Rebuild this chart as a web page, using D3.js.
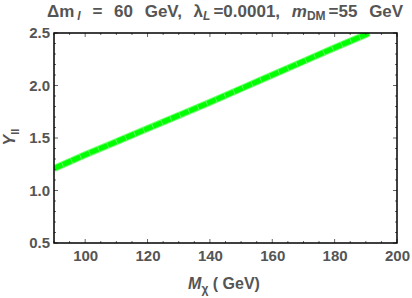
<!DOCTYPE html>
<html>
<head>
<meta charset="utf-8">
<script src="https://cdn.jsdelivr.net/npm/d3@7"></script>
<style>
  body { margin: 0; background: #fff; }
  text { font-family: "Liberation Sans", Arial, sans-serif; fill: #555; }
</style>
</head>
<body>
<svg id="chart" width="412" height="298"></svg>
<script>
// data
var massX = [90, 100, 110, 120, 130, 140, 150, 160, 170, 180, 190, 191];
var yieldY = [1.21, 1.34, 1.465, 1.59, 1.715, 1.84, 1.97, 2.1, 2.23, 2.36, 2.485, 2.5];
var xTicks = [100, 120, 140, 160, 180, 200];
var yTicks = [0.5, 1.0, 1.5, 2.0, 2.5];

var width = 412, height = 298;
var margin = { left: 54, right: 15, top: 33, bottom: 55 };

var svg = d3.select("#chart");

// scales
var x = d3.scaleLinear().domain([90, 200]).range([margin.left, width - margin.right]);
var y = d3.scaleLinear().domain([0.5, 2.5]).range([height - margin.bottom, margin.top]);

var plot = svg.append("g");

// clip so the band stops at the frame
svg.append("clipPath").attr("id", "clip")
  .append("rect")
  .attr("x", x(90)).attr("y", y(2.5))
  .attr("width", x(200) - x(90)).attr("height", y(0.5) - y(2.5));

var pts = massX.map((d, i) => [d, yieldY[i]]);
var line = d3.line().x(d => x(d[0])).y(d => y(d[1]));

// soft edge
plot.append("path")
  .datum(pts)
  .attr("clip-path", "url(#clip)")
  .attr("fill", "none")
  .attr("stroke", "#33ff33")
  .attr("stroke-opacity", 0.7)
  .attr("stroke-width", 7)
  .attr("d", line);

// dashed core to mimic the point cloud texture
plot.append("path")
  .datum(pts)
  .attr("clip-path", "url(#clip)")
  .attr("fill", "none")
  .attr("stroke", "#00ff00")
  .attr("stroke-width", 5)
  .attr("stroke-dasharray", "9,0.8")
  .attr("d", line);

// minor tick values
var xMinor = d3.range(90, 201, 5).filter(v => v % 20 !== 0);
var yMinor = d3.range(5, 26, 1).map(v => v / 10).filter(v => (Math.round(v * 10) % 5) !== 0);

var tickColor = "#666";

function drawTicks(vals, len) {
  // bottom & top
  vals.x.forEach(v => {
    plot.append("line").attr("x1", x(v)).attr("x2", x(v))
      .attr("y1", y(0.5)).attr("y2", y(0.5) - len)
      .attr("stroke", tickColor).attr("stroke-width", 1);
    plot.append("line").attr("x1", x(v)).attr("x2", x(v))
      .attr("y1", y(2.5)).attr("y2", y(2.5) + len)
      .attr("stroke", tickColor).attr("stroke-width", 1);
  });
  // left & right
  vals.y.forEach(v => {
    plot.append("line").attr("x1", x(90)).attr("x2", x(90) + len)
      .attr("y1", y(v)).attr("y2", y(v))
      .attr("stroke", tickColor).attr("stroke-width", 1);
    plot.append("line").attr("x1", x(200)).attr("x2", x(200) - len)
      .attr("y1", y(v)).attr("y2", y(v))
      .attr("stroke", tickColor).attr("stroke-width", 1);
  });
}
drawTicks({ x: xTicks, y: yTicks }, 4);
drawTicks({ x: xMinor, y: yMinor }, 2);

// frame
plot.append("rect")
  .attr("x", x(90)).attr("y", y(2.5))
  .attr("width", x(200) - x(90)).attr("height", y(0.5) - y(2.5))
  .attr("fill", "none").attr("stroke", "#000").attr("stroke-width", 1.5);

// tick labels via axes
var xAxis = d3.axisBottom(x).tickValues(xTicks).tickSize(0).tickPadding(7).tickFormat(d3.format("d"));
var yAxis = d3.axisLeft(y).tickValues(yTicks).tickSize(0).tickPadding(4).tickFormat(d3.format(".1f"));

var gx = svg.append("g").attr("transform", "translate(0," + y(0.5) + ")").call(xAxis);
var gy = svg.append("g").attr("transform", "translate(" + x(90) + ",0)").call(yAxis);
[gx, gy].forEach(g => {
  g.select(".domain").remove();
  g.selectAll("text").style("font-size", "15px").style("font-weight", "bold").attr("fill", "#555");
});

// title
var title = svg.append("text")
  .attr("x", 47).attr("y", 17)
  .attr("text-anchor", "start")
  .style("font-size", "17px").style("font-weight", "bold")
  .style("word-spacing", "7px");
title.append("tspan").text("Δm");
title.append("tspan").text("l").style("font-style", "italic").style("font-size", "12px").attr("dy", 3).attr("dx", 3);
title.append("tspan").text(" = 60 GeV, λ").attr("dy", -3);
title.append("tspan").text("L").style("font-style", "italic").style("font-size", "12px").attr("dy", 3);
title.append("tspan").text("=0.0001, ").attr("dy", -3).attr("dx", 3);
title.append("tspan").text("m").style("font-style", "italic");
title.append("tspan").text("DM").style("font-size", "12px").attr("dy", 3);
title.append("tspan").text("=55 GeV").attr("dy", -3).attr("dx", 3);

// x label
var xl = svg.append("text")
  .attr("x", 224).attr("y", 289)
  .attr("text-anchor", "middle")
  .style("font-size", "16px").style("font-weight", "bold");
xl.append("tspan").text("M").style("font-style", "italic");
xl.append("tspan").text("χ").style("font-size", "12px").attr("dy", 4);
xl.append("tspan").text(" ( GeV)").attr("dy", -4);

// y label
var yl = svg.append("text")
  .attr("transform", "translate(15,137) rotate(-90)")
  .attr("text-anchor", "middle")
  .style("font-size", "16px").style("font-weight", "bold");
yl.append("tspan").text("Y").style("font-style", "italic");
yl.append("tspan").text("ll").style("font-size", "11px").attr("dy", 4);
</script>
</body>
</html>
